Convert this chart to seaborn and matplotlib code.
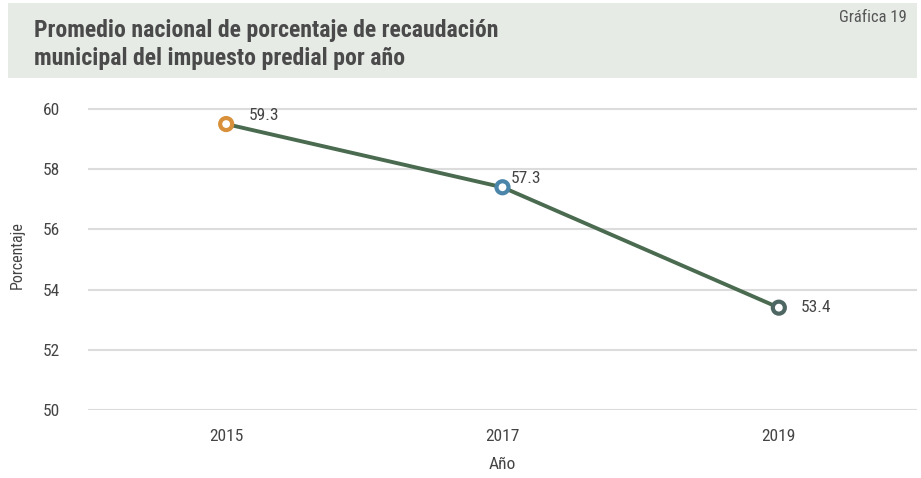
import matplotlib
matplotlib.use("Agg")
from matplotlib import pyplot as plt
from matplotlib.patches import Rectangle
import seaborn as sns

# data
years = ["2015", "2017", "2019"]
values = [59.5, 57.4, 53.4]          # plotted positions
value_labels = ["59.3", "57.3", "53.4"]  # labels as printed on the chart
y_ticks = [50, 52, 54, 56, 58, 60]

marker_colors = ["#d8913a", "#4b86aa", "#4f6762"]
label_offsets = [(27, 6), (17, 6), (27, 0)]

sns.set_style("white")
plt.rcParams["font.family"] = ["Roboto Condensed", "Liberation Sans Narrow", "Lato", "DejaVu Sans"]

fig = plt.figure(figsize=(9.21, 4.78), dpi=100)
W, H = 921, 478

# title band
fig.patches.append(Rectangle((8 / W, 1 - 78 / H), (917 - 8) / W, (78 - 3) / H,
                             transform=fig.transFigure, facecolor="#e6ebe6",
                             edgecolor="none", zorder=0))
fig.text(34 / W, 1 - 31 / H, "Promedio nacional de porcentaje de recaudación",
         fontsize=17.1, fontweight="bold", color="#4a4a4a", va="center", ha="left")
fig.text(34 / W, 1 - 58 / H, "municipal del impuesto predial por año",
         fontsize=17.1, fontweight="bold", color="#4a4a4a", va="center", ha="left")
fig.text(907 / W, 1 - 18 / H, "Gráfica 19", fontsize=12, color="#555555",
         va="center", ha="right")

left, right, top, bottom = 88, 917, 100, 410
ax = fig.add_axes([left / W, 1 - bottom / H, (right - left) / W, (bottom - top) / H])

x = list(range(len(years)))
sns.lineplot(x=x, y=values, ax=ax, color="#4a6b50", linewidth=2.8, zorder=2)
ax.scatter(x, values, s=75, facecolors="white", edgecolors=marker_colors,
           linewidths=3, zorder=3)

for xi, v, lab, off in zip(x, values, value_labels, label_offsets):
    ax.annotate(lab, (xi, v), xytext=off, textcoords="offset points",
                fontsize=12.5, color="#444444", va="center", ha="center")

ax.set_xlim(-0.5, 2.5)
ax.set_ylim(50, 60 + 9 / 30.1)
ax.set_xticks(x)
ax.set_xticklabels(years)
ax.set_yticks(y_ticks)
ax.yaxis.grid(True, color="#dcdcdc", linewidth=1.5)
ax.xaxis.grid(False)
for s in ax.spines.values():
    s.set_visible(False)
ax.tick_params(axis="both", length=0, labelsize=12.5, labelcolor="#444444")
ax.tick_params(axis="y", pad=20)
ax.tick_params(axis="x", pad=14)
ax.set_xlabel("Año", fontsize=12.5, color="#444444", labelpad=9)
ax.set_ylabel("Porcentaje", fontsize=11.5, color="#444444", labelpad=13)

fig.savefig("out.png", dpi=100)
